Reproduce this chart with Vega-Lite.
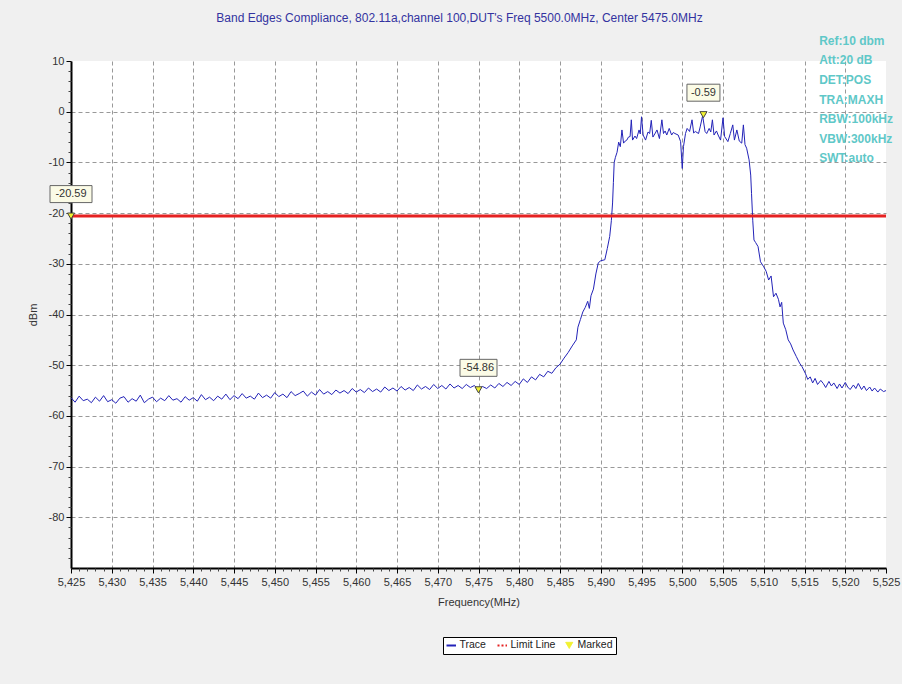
{
  "$schema": "https://vega.github.io/schema/vega-lite/v6.json",
  "width": 815,
  "height": 507,
  "autosize": "none",
  "padding": {"left": 71, "top": 61, "right": 16, "bottom": 116},
  "background": "#f0f0f0",
  "config": {
    "view": {"fill": "white", "stroke": null},
    "font": "Liberation Sans",
    "axis": {"labelColor": "#333333", "titleColor": "#333333", "labelFontSize": 11, "titleFontSize": 11, "titleFontWeight": "normal"}
  },
  "title": {
    "text": "Band Edges Compliance, 802.11a,channel 100,DUT's Freq 5500.0MHz, Center 5475.0MHz",
    "fontSize": 12,
    "fontWeight": "normal",
    "color": "#3333a0",
    "offset": 10,
    "dx": -19,
    "anchor": "middle"
  },
  "datasets": {
    "trace": [
      {"f":5425.0,"v":-56.4},{"f":5425.5,"v":-57.3},{"f":5426.0,"v":-56.1},{"f":5426.5,"v":-57.0},{"f":5427.0,"v":-56.7},{"f":5427.5,"v":-57.4},{"f":5428.0,"v":-56.3},{"f":5428.5,"v":-57.1},{"f":5429.0,"v":-56.0},{"f":5429.5,"v":-57.2},
      {"f":5430.0,"v":-56.8},{"f":5430.5,"v":-57.5},{"f":5431.0,"v":-56.5},{"f":5431.5,"v":-56.2},{"f":5432.0,"v":-57.3},{"f":5432.5,"v":-56.6},{"f":5433.0,"v":-57.1},{"f":5433.5,"v":-55.9},{"f":5434.0,"v":-57.4},{"f":5434.5,"v":-56.7},
      {"f":5435.0,"v":-56.3},{"f":5435.5,"v":-57.2},{"f":5436.0,"v":-56.5},{"f":5436.5,"v":-57.0},{"f":5437.0,"v":-56.0},{"f":5437.5,"v":-56.9},{"f":5438.0,"v":-56.6},{"f":5438.5,"v":-57.3},{"f":5439.0,"v":-56.2},{"f":5439.5,"v":-56.9},
      {"f":5440.0,"v":-56.4},{"f":5440.5,"v":-57.1},{"f":5441.0,"v":-55.8},{"f":5441.5,"v":-56.8},{"f":5442.0,"v":-56.3},{"f":5442.5,"v":-57.0},{"f":5443.0,"v":-56.1},{"f":5443.5,"v":-56.7},{"f":5444.0,"v":-55.7},{"f":5444.5,"v":-56.8},
      {"f":5445.0,"v":-56.0},{"f":5445.5,"v":-56.6},{"f":5446.0,"v":-55.6},{"f":5446.5,"v":-56.5},{"f":5447.0,"v":-56.1},{"f":5447.5,"v":-56.7},{"f":5448.0,"v":-55.5},{"f":5448.5,"v":-56.4},{"f":5449.0,"v":-55.9},{"f":5449.5,"v":-56.5},
      {"f":5450.0,"v":-55.4},{"f":5450.5,"v":-56.2},{"f":5451.0,"v":-55.7},{"f":5451.5,"v":-56.4},{"f":5452.0,"v":-55.2},{"f":5452.5,"v":-56.0},{"f":5453.0,"v":-55.6},{"f":5453.5,"v":-55.1},{"f":5454.0,"v":-56.1},{"f":5454.5,"v":-55.3},
      {"f":5455.0,"v":-55.9},{"f":5455.5,"v":-54.8},{"f":5456.0,"v":-55.7},{"f":5456.5,"v":-55.2},{"f":5457.0,"v":-55.8},{"f":5457.5,"v":-54.9},{"f":5458.0,"v":-55.5},{"f":5458.5,"v":-55.0},{"f":5459.0,"v":-55.6},{"f":5459.5,"v":-54.6},
      {"f":5460.0,"v":-55.3},{"f":5460.5,"v":-54.8},{"f":5461.0,"v":-55.4},{"f":5461.5,"v":-54.5},{"f":5462.0,"v":-55.2},{"f":5462.5,"v":-54.7},{"f":5463.0,"v":-55.3},{"f":5463.5,"v":-54.3},{"f":5464.0,"v":-55.0},{"f":5464.5,"v":-54.5},
      {"f":5465.0,"v":-55.1},{"f":5465.5,"v":-54.2},{"f":5466.0,"v":-54.9},{"f":5466.5,"v":-54.4},{"f":5467.0,"v":-55.0},{"f":5467.5,"v":-53.9},{"f":5468.0,"v":-54.7},{"f":5468.5,"v":-54.2},{"f":5469.0,"v":-54.8},{"f":5469.5,"v":-53.8},
      {"f":5470.0,"v":-54.6},{"f":5470.5,"v":-54.0},{"f":5471.0,"v":-54.7},{"f":5471.5,"v":-53.7},{"f":5472.0,"v":-54.5},{"f":5472.5,"v":-54.0},{"f":5473.0,"v":-54.6},{"f":5473.5,"v":-53.8},{"f":5474.0,"v":-54.4},{"f":5474.5,"v":-54.0},
      {"f":5475.0,"v":-54.86},{"f":5475.5,"v":-54.2},{"f":5476.0,"v":-54.6},{"f":5476.5,"v":-53.9},{"f":5477.0,"v":-54.5},{"f":5477.5,"v":-53.6},{"f":5478.0,"v":-54.2},{"f":5478.5,"v":-53.4},{"f":5479.0,"v":-54.0},{"f":5479.5,"v":-53.2},
      {"f":5480.0,"v":-53.8},{"f":5480.5,"v":-52.7},{"f":5481.0,"v":-53.4},{"f":5481.5,"v":-52.3},{"f":5482.0,"v":-52.9},{"f":5482.5,"v":-51.8},{"f":5483.0,"v":-52.3},{"f":5483.5,"v":-51.2},{"f":5484.0,"v":-51.6},{"f":5484.5,"v":-50.5},
      {"f":5485.0,"v":-49.8},{"f":5485.5,"v":-48.6},{"f":5486.0,"v":-47.5},{"f":5486.5,"v":-46.2},{"f":5487.0,"v":-45.0},{"f":5487.2,"v":-42.5},{"f":5487.5,"v":-41.0},{"f":5487.8,"v":-39.5},{"f":5488.1,"v":-38.6},{"f":5488.4,"v":-37.4},
      {"f":5488.6,"v":-38.8},{"f":5488.8,"v":-36.3},{"f":5489.1,"v":-35.0},{"f":5489.4,"v":-32.0},{"f":5489.7,"v":-29.8},{"f":5490.0,"v":-29.4},{"f":5490.5,"v":-29.2},{"f":5490.8,"v":-27.0},{"f":5491.1,"v":-24.6},{"f":5491.3,"v":-21.5},
      {"f":5491.45,"v":-18.0},{"f":5491.55,"v":-14.0},{"f":5491.65,"v":-10.0},{"f":5491.8,"v":-9.0},{"f":5492.0,"v":-8.0},{"f":5492.2,"v":-6.0},{"f":5492.4,"v":-6.9},{"f":5492.6,"v":-3.6},{"f":5492.8,"v":-6.2},{"f":5493.0,"v":-5.8},
      {"f":5493.2,"v":-5.6},{"f":5493.4,"v":-5.0},{"f":5493.6,"v":-4.9},{"f":5493.75,"v":-1.6},{"f":5493.9,"v":-5.6},{"f":5494.2,"v":-4.8},{"f":5494.4,"v":-5.3},{"f":5494.7,"v":-3.6},{"f":5494.85,"v":-4.4},{"f":5495.0,"v":-1.0},
      {"f":5495.2,"v":-4.6},{"f":5495.5,"v":-5.6},{"f":5495.8,"v":-4.0},{"f":5496.0,"v":-4.3},{"f":5496.2,"v":-1.7},{"f":5496.4,"v":-5.0},{"f":5496.7,"v":-4.2},{"f":5496.9,"v":-3.6},{"f":5497.2,"v":-5.3},{"f":5497.5,"v":-1.6},
      {"f":5497.7,"v":-4.3},{"f":5497.9,"v":-3.8},{"f":5498.1,"v":-4.6},{"f":5498.4,"v":-3.3},{"f":5498.7,"v":-4.6},{"f":5498.9,"v":-4.1},{"f":5499.1,"v":-4.3},{"f":5499.5,"v":-4.6},{"f":5499.8,"v":-5.9},{"f":5500.0,"v":-11.2},
      {"f":5500.15,"v":-6.9},{"f":5500.4,"v":-4.3},{"f":5500.6,"v":-3.3},{"f":5500.9,"v":-3.9},{"f":5501.2,"v":-1.6},{"f":5501.4,"v":-4.2},{"f":5501.6,"v":-3.9},{"f":5502.0,"v":-4.3},{"f":5502.2,"v":-3.0},{"f":5502.5,"v":-0.8},
      {"f":5502.8,"v":-3.9},{"f":5503.0,"v":-4.3},{"f":5503.3,"v":-3.3},{"f":5503.5,"v":-4.0},{"f":5503.7,"v":-1.6},{"f":5503.9,"v":-4.6},{"f":5504.2,"v":-3.8},{"f":5504.4,"v":-4.6},{"f":5504.7,"v":-5.6},{"f":5505.0,"v":-1.2},
      {"f":5505.2,"v":-4.9},{"f":5505.6,"v":-5.9},{"f":5505.9,"v":-4.3},{"f":5506.2,"v":-2.6},{"f":5506.4,"v":-5.6},{"f":5506.7,"v":-3.6},{"f":5507.0,"v":-5.8},{"f":5507.3,"v":-6.2},{"f":5507.5,"v":-2.6},{"f":5507.7,"v":-6.5},
      {"f":5507.9,"v":-7.2},{"f":5508.2,"v":-9.5},{"f":5508.4,"v":-12.5},{"f":5508.5,"v":-16.1},{"f":5508.65,"v":-21.4},{"f":5508.8,"v":-25.3},{"f":5509.0,"v":-25.8},{"f":5509.3,"v":-26.6},{"f":5509.6,"v":-29.6},{"f":5510.0,"v":-30.6},
      {"f":5510.3,"v":-31.5},{"f":5510.6,"v":-33.2},{"f":5510.9,"v":-32.4},{"f":5511.2,"v":-36.5},{"f":5511.5,"v":-35.8},{"f":5511.8,"v":-37.0},{"f":5512.0,"v":-38.5},{"f":5512.2,"v":-37.6},{"f":5512.4,"v":-41.7},{"f":5512.7,"v":-43.0},
      {"f":5513.0,"v":-45.0},{"f":5513.3,"v":-45.8},{"f":5513.6,"v":-47.0},{"f":5514.0,"v":-48.3},{"f":5514.4,"v":-49.6},{"f":5514.7,"v":-50.3},{"f":5515.1,"v":-51.6},{"f":5515.4,"v":-52.8},{"f":5515.7,"v":-52.3},{"f":5516.0,"v":-53.5},
      {"f":5516.3,"v":-52.6},{"f":5516.6,"v":-53.8},{"f":5517.0,"v":-53.0},{"f":5517.3,"v":-53.6},{"f":5517.6,"v":-54.4},{"f":5518.0,"v":-53.2},{"f":5518.3,"v":-54.1},{"f":5518.6,"v":-53.5},{"f":5519.0,"v":-54.6},{"f":5519.3,"v":-53.7},
      {"f":5519.6,"v":-54.5},{"f":5520.0,"v":-53.4},{"f":5520.3,"v":-54.3},{"f":5520.6,"v":-54.8},{"f":5521.0,"v":-53.9},{"f":5521.3,"v":-54.6},{"f":5521.6,"v":-53.6},{"f":5522.0,"v":-54.8},{"f":5522.3,"v":-54.1},{"f":5522.6,"v":-55.0},
      {"f":5523.0,"v":-54.3},{"f":5523.3,"v":-55.1},{"f":5523.6,"v":-54.5},{"f":5524.0,"v":-55.3},{"f":5524.3,"v":-54.7},{"f":5524.7,"v":-55.2},{"f":5525.0,"v":-55.0}
    ],
    "markers": [
      {"f": 5425, "v": -20.59, "label": "-20.59"},
      {"f": 5475, "v": -54.86, "label": "-54.86"},
      {"f": 5502.6, "v": -0.59, "label": "-0.59"}
    ],
    "limit": [{"limit": -20.59}],
    "info": [
      {"line": "Ref:10 dbm", "f": 5516.8, "v": 13.9},
      {"line": "Att:20 dB", "f": 5516.8, "v": 10.1},
      {"line": "DET:POS", "f": 5516.8, "v": 6.2},
      {"line": "TRA:MAXH", "f": 5516.8, "v": 2.4},
      {"line": "RBW:100kHz", "f": 5516.8, "v": -1.5},
      {"line": "VBW:300kHz", "f": 5516.8, "v": -5.3},
      {"line": "SWT:auto", "f": 5516.8, "v": -9.2}
    ]
  },
  "layer": [
    {
      "data": {"name": "trace"},
      "mark": {"type": "line", "strokeWidth": 1, "clip": true},
      "encoding": {
        "x": {"field": "f", "type": "quantitative", "scale": {"domain": [5425, 5525], "nice": false, "zero": false},
          "axis": {"orient": "bottom", "values": [5425,5430,5435,5440,5445,5450,5455,5460,5465,5470,5475,5480,5485,5490,5495,5500,5505,5510,5515,5520,5525],
            "labelExpr": "format(datum.value, ',d')", "grid": false, "tickSize": 5, "tickColor": "#000000", "domainColor": "#000000", "domainWidth": 2,
            "labelPadding": 3, "title": "Frequency(MHz)", "titlePadding": 9, "labelFlush": false, "labelOverlap": false}},
        "y": {"field": "v", "type": "quantitative", "scale": {"domain": [-90, 10], "nice": false, "zero": false},
          "axis": {"orient": "left", "values": [-80,-70,-60,-50,-40,-30,-20,-10,0,10], "labelExpr": "'' + datum.value", "grid": false,
            "tickSize": 5, "tickColor": "#000000", "domainColor": "#000000", "domainWidth": 2, "labelPadding": 2,
            "title": "dBm", "titlePadding": 10, "labelFlush": false, "labelOverlap": false}},
        "color": {"datum": "Trace", "type": "nominal",
          "scale": {"domain": ["Trace", "Limit Line", "Marked"], "range": ["#2323b8", "#e52222", "#f2f230"]},
          "legend": {
            "title": null, "orient": "none", "legendX": 372, "legendY": 576, "direction": "horizontal",
            "fillColor": "white", "strokeColor": "#000000", "padding": 3, "labelFontSize": 10.5, "labelColor": "#222222",
            "columnPadding": 7, "labelOffset": 3, "symbolSize": 90,
            "encode": {"symbols": {"update": {
              "shape": {"signal": "datum.value === 'Marked' ? 'triangle-down' : 'stroke'"},
              "fill": {"signal": "datum.value === 'Marked' ? '#f2f230' : 'transparent'"},
              "stroke": {"signal": "datum.value === 'Trace' ? '#2323b8' : (datum.value === 'Limit Line' ? '#e52222' : '#333333')"},
              "strokeDash": {"signal": "datum.value === 'Limit Line' ? [2, 2] : [1, 0]"},
              "strokeWidth": {"signal": "datum.value === 'Marked' ? 1 : 2"},
              "size": {"signal": "datum.value === 'Marked' ? 50 : 90"}
            }}}
          }}
      }
    },
    {
      "data": {"name": "limit"},
      "mark": {"type": "rule", "strokeWidth": 3},
      "encoding": {
        "y": {"field": "limit", "type": "quantitative", "axis": null},
        "color": {"datum": "Limit Line", "type": "nominal"}
      }
    },
    {
      "data": {"name": "markers"},
      "mark": {"type": "point", "filled": true, "fill": "#fbfbe6", "stroke": "#666666", "strokeWidth": 1, "opacity": 1, "size": 400},
      "encoding": {
        "x": {"field": "f", "type": "quantitative",
          "axis": {"orient": "bottom", "values": [5430,5435,5440,5445,5450,5455,5460,5465,5470,5475,5480,5485,5490,5495,5500,5505,5510,5515,5520],
            "grid": true, "gridColor": "#999999", "gridDash": [4, 3], "gridWidth": 1, "labels": false, "ticks": false, "domain": false, "title": null}},
        "y": {"field": "v", "type": "quantitative",
          "axis": {"orient": "left", "values": [-80,-70,-60,-50,-40,-30,-20,-10,0],
            "grid": true, "gridColor": "#999999", "gridDash": [4, 3], "gridWidth": 1, "labels": false, "ticks": false, "domain": false, "title": null}},
        "shape": {"field": "label", "type": "nominal", "legend": null,
          "scale": {"domain": ["-20.59", "-54.86", "-0.59"],
            "range": ["M-2.1,-3.05H2.1V-1.35H-2.1Z", "M-1.85,-3.05H1.85V-1.35H-1.85Z", "M-1.65,-3.05H1.65V-1.35H-1.65Z"]}}
      }
    },
    {
      "data": {"name": "markers"},
      "mark": {"type": "text", "fontSize": 11, "color": "#333333", "align": "center", "baseline": "middle", "dy": -22},
      "encoding": {
        "x": {"field": "f", "type": "quantitative", "axis": null},
        "y": {"field": "v", "type": "quantitative", "axis": null},
        "text": {"field": "label"}
      }
    },
    {
      "data": {"name": "markers"},
      "mark": {"type": "point", "shape": "triangle-down", "filled": true, "stroke": "#444444", "strokeWidth": 1, "size": 50, "opacity": 1},
      "encoding": {
        "x": {"field": "f", "type": "quantitative",
          "axis": {"orient": "bottom", "values": [5426,5427,5428,5429,5431,5432,5433,5434,5436,5437,5438,5439,5441,5442,5443,5444,5446,5447,5448,5449,5451,5452,5453,5454,5456,5457,5458,5459,5461,5462,5463,5464,5466,5467,5468,5469,5471,5472,5473,5474,5476,5477,5478,5479,5481,5482,5483,5484,5486,5487,5488,5489,5491,5492,5493,5494,5496,5497,5498,5499,5501,5502,5503,5504,5506,5507,5508,5509,5511,5512,5513,5514,5516,5517,5518,5519,5521,5522,5523,5524],
            "grid": false, "labels": false, "tickSize": 3, "tickColor": "#444444", "domain": false, "title": null}},
        "y": {"field": "v", "type": "quantitative",
          "axis": {"orient": "left", "values": [-88,-86,-84,-82,-78,-76,-74,-72,-68,-66,-64,-62,-58,-56,-54,-52,-48,-46,-44,-42,-38,-36,-34,-32,-28,-26,-24,-22,-18,-16,-14,-12,-8,-6,-4,-2,2,4,6,8],
            "grid": false, "labels": false, "tickSize": 3, "tickColor": "#444444", "domain": false, "title": null}},
        "color": {"datum": "Marked", "type": "nominal"}
      }
    },
    {
      "data": {"name": "info"},
      "mark": {"type": "text", "font": "Liberation Sans", "fontWeight": "bold", "fontSize": 12, "color": "#5fc8c8", "align": "left", "baseline": "middle", "clip": false},
      "encoding": {
        "x": {"field": "f", "type": "quantitative", "axis": null},
        "y": {"field": "v", "type": "quantitative", "axis": null},
        "text": {"field": "line"}
      }
    }
  ],
  "resolve": {"axis": {"x": "independent", "y": "independent"}}
}
